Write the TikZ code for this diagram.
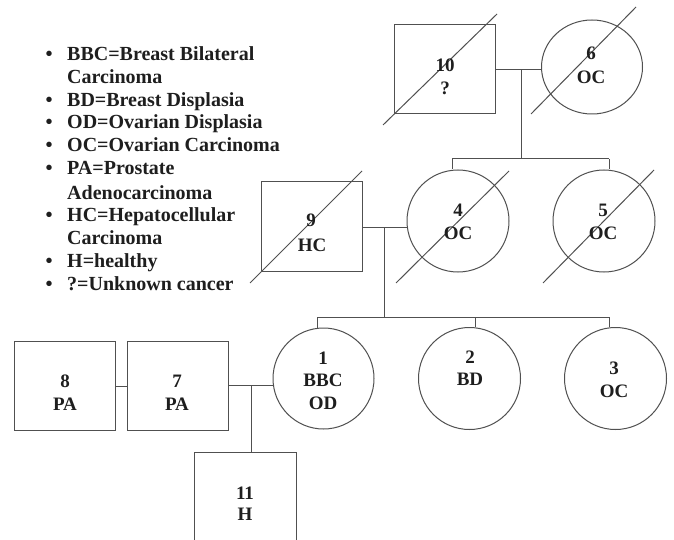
\documentclass[tikz,border=0pt]{standalone}
\usepackage{fontspec}
\setmainfont{Liberation Serif}
\usetikzlibrary{shapes.geometric}
\definecolor{ln}{HTML}{505050}
\definecolor{tx}{HTML}{1E1E1E}
\tikzset{
  sq/.style={draw=ln, line width=1pt, rectangle, inner sep=0pt, minimum width=101pt, minimum height=89pt},
  fem/.style={draw=ln, line width=1pt, ellipse, inner sep=0pt, minimum width=102pt, minimum height=102pt},
  conn/.style={draw=ln, line width=1pt},
  dead/.style={draw=ln, line width=1pt},
  lab/.style={anchor=base, inner sep=0pt, text=tx, font=\fontsize{19}{23}\selectfont\bfseries},
  leg/.style={anchor=base west, inner sep=0pt, text=tx, font=\fontsize{20}{23}\selectfont\bfseries},
  bul/.style={anchor=base, inner sep=0pt, text=tx, font=\fontsize{20}{23}\selectfont\bfseries}
}
\begin{document}
\begin{tikzpicture}[x=1pt, y=-1pt]
\clip (0,0) rectangle (674,540);
\fill[white] (0,0) rectangle (674,540);
% legend
\node[bul] (b1) at (49,61) {•};
\node[leg] (t1) at (67,61) {BBC=Breast Bilateral};
\node[leg] (t2) at (67,84) {Carcinoma};
\node[bul] (b3) at (49,107) {•};
\node[leg] (t3) at (67,107) {BD=Breast Displasia};
\node[bul] (b4) at (49,129) {•};
\node[leg] (t4) at (67,129) {OD=Ovarian Displasia};
\node[bul] (b5) at (49,152) {•};
\node[leg] (t5) at (67,152) {OC=Ovarian Carcinoma};
\node[bul] (b6) at (49,175) {•};
\node[leg] (t6) at (67,175) {PA=Prostate};
\node[leg] (t7) at (67,199) {Adenocarcinoma};
\node[bul] (b8) at (49,221) {•};
\node[leg] (t8) at (67,221) {HC=Hepatocellular};
\node[leg] (t9) at (67,244) {Carcinoma};
\node[bul] (b10) at (49,267) {•};
\node[leg] (t10) at (67,267) {H=healthy};
\node[bul] (b11) at (49,290) {•};
\node[leg] (t11) at (67,290) {?=Unknown cancer};

% shapes
\node[sq] (sq10) at (445,69) {};
\node[fem, minimum height=94pt, minimum width=101pt] (c6) at (592,67) {};
\node[sq] (sq9) at (311.5,226.5) {};
\node[fem] (c4) at (458,221) {};
\node[fem] (c5) at (604,221) {};
\node[sq] (sq8) at (64.5,385.5) {};
\node[sq] (sq7) at (177.5,385.5) {};
\node[fem, minimum width=101pt, minimum height=101pt] (c1) at (323.5,378.5) {};
\node[fem] (c2) at (469.5,378.5) {};
\node[fem] (c3) at (615.5,378.5) {};
\node[sq, minimum width=102pt, minimum height=100pt] (sq11) at (245,502) {};

% deceased slashes
\draw[dead] (383,125) -- (497,14);
\draw[dead] (531,114) -- (636,7);
\draw[dead] (250,283) -- (362,171);
\draw[dead] (396,283) -- (509,171);
\draw[dead] (543,283) -- (654,170);

% labels
\node[lab] (l10a) at (445,71.5) {10};
\node[lab] (l10b) at (445,94.5) {?};
\node[lab] (l6a) at (591,59.5) {6};
\node[lab] (l6b) at (591,83.5) {OC};
\node[lab] (l9a) at (311,226.5) {9};
\node[lab] (l9b) at (312,251.5) {HC};
\node[lab] (l4a) at (458,216.5) {4};
\node[lab] (l4b) at (458,239.5) {OC};
\node[lab] (l5a) at (603,216.5) {5};
\node[lab] (l5b) at (603,239.5) {OC};
\node[lab] (l1a) at (323,364.5) {1};
\node[lab] (l1b) at (323,386.5) {BBC};
\node[lab] (l1c) at (323,409.5) {OD};
\node[lab] (l2a) at (470,363.5) {2};
\node[lab] (l2b) at (470,385.5) {BD};
\node[lab] (l3a) at (614,374.5) {3};
\node[lab] (l3b) at (614,397.5) {OC};
\node[lab] (l8a) at (65,387.5) {8};
\node[lab] (l8b) at (65,410.5) {PA};
\node[lab] (l7a) at (177,387.5) {7};
\node[lab] (l7b) at (177,410.5) {PA};
\node[lab] (l11a) at (245,499.5) {11};
\node[lab] (l11b) at (245,520.5) {H};

% connectors
\coordinate (m1) at (521,70);
\coordinate (s1) at (521,159);
\coordinate (s1l) at (452,159);
\coordinate (s1r) at (609,159);
\draw[conn] (sq10.east |- m1) -- (c6.west |- m1);
\draw[conn] (m1) -- (s1);
\draw[conn] (s1l) -- (s1r);
\draw[conn] (s1l) -- (s1l |- c4.north);
\draw[conn] (s1r) -- (s1r |- c5.north);

\coordinate (m2) at (384,227);
\coordinate (s2) at (384,317);
\coordinate (s2l) at (317,317);
\coordinate (s2m) at (475,317);
\coordinate (s2r) at (609,317);
\draw[conn] (sq9.east |- m2) -- (c4.west |- m2);
\draw[conn] (m2) -- (s2);
\draw[conn] (s2l) -- (s2r);
\draw[conn] (s2l) -- (s2l |- c1.north);
\draw[conn] (s2m) -- (s2m |- c2.north);
\draw[conn] (s2r) -- (s2r |- c3.north);

\coordinate (m3) at (0,386);
\draw[conn] (sq8.east |- m3) -- (sq7.west |- m3);
\coordinate (m4) at (251,385);
\draw[conn] (sq7.east |- m4) -- (c1.west |- m4);
\draw[conn] (m4) -- (m4 |- sq11.north);
\end{tikzpicture}
\end{document}
